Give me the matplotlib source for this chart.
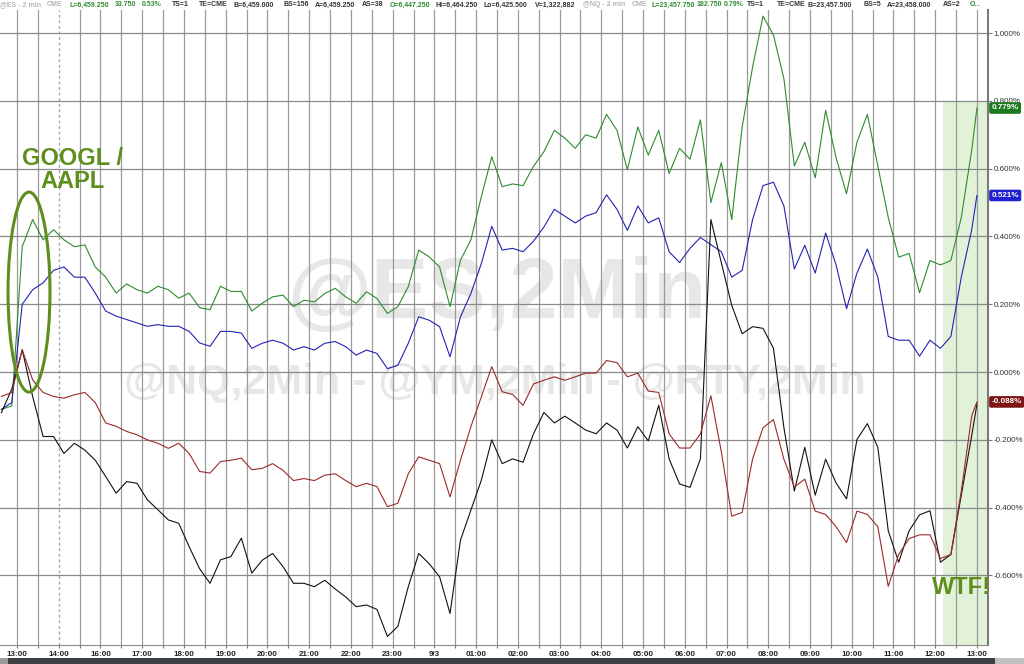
import numpy as np
import matplotlib
matplotlib.use('Agg')
import matplotlib.pyplot as plt
from matplotlib.patches import Ellipse, Rectangle

plt.rcParams['font.family'] = ['Liberation Sans', 'DejaVu Sans']

# time axis: half-hour slots counted from 13:00 (2-min bars sampled every 15 min)
times = np.append(np.arange(-0.75, 46.0, 0.5), 46.0)

# % change
nq = [-0.11, -0.10, 0.37, 0.45, 0.39, 0.42, 0.39, 0.37, 0.375, 0.31, 0.28, 0.233, 0.26,
      0.243, 0.233, 0.253, 0.243, 0.218, 0.233, 0.19, 0.184, 0.253, 0.238, 0.238, 0.18,
      0.203, 0.222, 0.227, 0.193, 0.212, 0.207, 0.232, 0.247, 0.222, 0.203, 0.237, 0.217,
      0.173, 0.193, 0.252, 0.36, 0.34, 0.31, 0.193, 0.33, 0.39, 0.517, 0.635, 0.547,
      0.555, 0.55, 0.607, 0.65, 0.713, 0.69, 0.66, 0.70, 0.69, 0.76, 0.713, 0.597,
      0.723, 0.64, 0.713, 0.586, 0.66, 0.628, 0.744, 0.50, 0.618, 0.45, 0.723, 0.90,
      1.05, 0.994, 0.865, 0.608, 0.678, 0.573, 0.772, 0.632, 0.526, 0.678, 0.76, 0.608,
      0.456, 0.339, 0.35, 0.234, 0.329, 0.316, 0.329, 0.456, 0.655, 0.779]
es = [-0.11, -0.09, 0.20, 0.243, 0.263, 0.30, 0.31, 0.28, 0.28, 0.233, 0.18, 0.165, 0.155,
      0.145, 0.135, 0.14, 0.135, 0.135, 0.12, 0.086, 0.076, 0.12, 0.12, 0.115, 0.07,
      0.085, 0.094, 0.085, 0.065, 0.075, 0.065, 0.085, 0.09, 0.075, 0.05, 0.065, 0.055,
      0.01, 0.02, 0.085, 0.163, 0.153, 0.134, 0.045, 0.163, 0.232, 0.32, 0.43, 0.36,
      0.365, 0.355, 0.386, 0.428, 0.48, 0.46, 0.44, 0.46, 0.47, 0.523, 0.48, 0.418,
      0.49, 0.44, 0.455, 0.355, 0.323, 0.365, 0.397, 0.376, 0.355, 0.28, 0.30, 0.45,
      0.55, 0.56, 0.49, 0.304, 0.374, 0.292, 0.41, 0.316, 0.187, 0.292, 0.363, 0.28,
      0.105, 0.094, 0.094, 0.047, 0.094, 0.07, 0.105, 0.28, 0.42, 0.521]
ym = [-0.072, -0.06, 0.066, -0.023, -0.06, -0.072, -0.077, -0.067, -0.06, -0.09, -0.15,
      -0.16, -0.175, -0.185, -0.20, -0.21, -0.225, -0.21, -0.24, -0.293, -0.298, -0.264,
      -0.26, -0.254, -0.288,
      -0.284, -0.27, -0.29, -0.32, -0.314, -0.32, -0.304, -0.30, -0.32, -0.338, -0.328,
      -0.338, -0.397, -0.387, -0.30, -0.25, -0.26, -0.27, -0.368, -0.26, -0.161, -0.073,
      0.016, -0.058,
      -0.066, -0.098, -0.035, -0.024, -0.014, -0.024, -0.014, -0.003, -0.003, 0.034,
      0.028, -0.014, -0.003, -0.056, -0.06, -0.182, -0.224, -0.224, -0.182, -0.07,
      -0.235, -0.425, -0.414, -0.256,
      -0.164, -0.14, -0.257, -0.339, -0.316, -0.41, -0.42, -0.456, -0.503, -0.41, -0.42,
      -0.456, -0.632, -0.538, -0.491, -0.48, -0.48, -0.55, -0.538, -0.351, -0.129, -0.088]
rty = [-0.12, -0.05, 0.066, -0.072, -0.19, -0.19, -0.24, -0.21, -0.23, -0.26, -0.308,
       -0.357, -0.323, -0.328, -0.377, -0.406, -0.436, -0.446, -0.515, -0.58, -0.623,
       -0.554, -0.544, -0.49, -0.593,
       -0.555, -0.535, -0.574, -0.623, -0.623, -0.633, -0.614, -0.64, -0.663, -0.692,
       -0.687, -0.70, -0.78, -0.75, -0.633, -0.535, -0.565, -0.604, -0.712, -0.496,
       -0.407, -0.319, -0.20, -0.27,
       -0.256, -0.266, -0.182, -0.119, -0.15, -0.13, -0.15, -0.171, -0.182, -0.15,
       -0.171, -0.224, -0.161, -0.203, -0.098, -0.256, -0.33, -0.34, -0.256, 0.45,
       0.323, 0.197, 0.113, 0.134,
       0.129, 0.07, -0.164, -0.351, -0.222, -0.363, -0.257, -0.327, -0.374, -0.199,
       -0.152, -0.222, -0.468, -0.561, -0.468, -0.421, -0.409, -0.561, -0.538, -0.363,
       -0.187, -0.095]

tick_slots = list(range(0, 47, 2))
tick_labels = ['13:00', '14:00', '16:00', '17:00', '18:00', '19:00', '20:00', '21:00',
               '22:00', '23:00', '9/3', '01:00', '02:00', '03:00', '04:00', '05:00',
               '06:00', '07:00', '08:00', '09:00', '10:00', '11:00', '12:00', '13:00']
pct_ticks = [-0.6, -0.4, -0.2, 0.0, 0.2, 0.4, 0.6, 0.8, 1.0]

W, H = 1024, 664
fig = plt.figure(figsize=(10.24, 6.64), dpi=100)
ax = fig.add_axes([0, 19 / H, 988 / W, 635 / H])
ax.set_xlim(-0.815, 46.53)
ax.set_ylim(-0.805, 1.068)

# grid
for s in range(0, 47):
    if s == 2:
        ax.axvline(s, color='#a8a8a8', lw=1, ls=(0, (2, 2)), zorder=1)
    else:
        ax.axvline(s, color='#9a9a9a', lw=0.9, zorder=1)
for v in pct_ticks:
    ax.axhline(v, color='#8a8a8a', lw=0.9, zorder=1)

# highlighted window
ax.add_patch(Rectangle((44.37, -0.805), 46.53 - 44.37, 0.8 + 0.805,
                       facecolor='#e2f2d8', edgecolor='none', zorder=0.5))

# watermarks
ax.text(23.0, (372 - 296) / 339, '@ES,2Min', fontsize=62, fontweight='bold',
        color='#e7e7e7', ha='center', va='center', zorder=0.8)
ax.text(22.9, (372 - 383) / 339, '@NQ,2Min - @YM,2Min - @RTY,2Min', fontsize=31,
        fontweight='bold', color='#e7e7e7', ha='center', va='center', zorder=0.8)

ax.plot(times, nq, color='#2e8b2e', lw=0.8, zorder=3)
ax.plot(times, es, color='#2323b4', lw=0.8, zorder=3)
ax.plot(times, rty, color='#111111', lw=0.8, zorder=3)
ax.plot(times, ym, color='#9a2a2a', lw=0.8, zorder=3)

# annotations
olive = '#5e8e1c'
ax.text(2.64, 0.596, 'GOOGL /\nAAPL', fontsize=17, fontweight='bold', color=olive,
        ha='center', va='center', linespacing=1.05, zorder=4)
ax.add_patch(Ellipse((0.575, 0.236), 2.01, 0.59, fill=False, edgecolor=olive,
                     lw=2.2, zorder=4))
ax.text(45.28, -0.634, 'WTF!', fontsize=17, fontweight='bold', color=olive,
        ha='center', va='center', zorder=4, clip_on=False)

# axes styling
for side in ['left', 'top']:
    ax.spines[side].set_visible(False)
ax.spines['right'].set_color('#7a7a7a')
ax.spines['right'].set_linewidth(1.5)
ax.spines['bottom'].set_color('#8a8a8a')
ax.yaxis.tick_right()
ax.set_yticks(pct_ticks)
ax.set_yticklabels(['{:.3f}%'.format(v) for v in pct_ticks])
ax.tick_params(axis='y', length=3, width=0.8, color='#777777', pad=1,
               labelsize=5.8, labelcolor='#333333')
ax.set_xticks(tick_slots)
ax.set_xticklabels(tick_labels)
ax.set_xticks(range(0, 47), minor=True)
ax.tick_params(axis='x', which='both', length=2, width=0.8, color='#777777', pad=2,
               labelsize=5.8, labelcolor='#222222')
for lab in ax.get_xticklabels():
    lab.set_fontweight('bold')

# last value badges
for val, col in [(0.779, '#1e7a1e'), (0.521, '#2020d0'), (-0.088, '#7e1414')]:
    ax.annotate('{:.3f}%'.format(val), xy=(1.0, val), xycoords=ax.get_yaxis_transform(),
                xytext=(2.5, 0), textcoords='offset points', ha='left', va='center',
                fontsize=5.8, fontweight='bold', color='white', annotation_clip=False,
                bbox=dict(boxstyle='round,pad=0.2,rounding_size=0.15', fc=col, ec=col))

# header quote line
grey, green, dark = '#b5b5b5', '#2e8b2e', '#333333'
header = [(0, '@ES - 2 min', grey), (47, 'CME', grey), (70, 'L=6,459.250', green),
          (115, '33.750', green), (142, '0.53%', green), (172, 'TS=1', dark),
          (199, 'TE=CME', dark), (233, 'B=6,459.000', dark), (283, 'BS=156', dark),
          (315, 'A=6,459.250', dark), (362, 'AS=38', dark), (390, 'O=6,447.250', green),
          (435, 'Hi=6,464.250', dark), (483, 'Lo=6,425.500', dark),
          (535, 'V=1,322,882', dark), (583, '@NQ - 2 min', grey), (632, 'CME', grey),
          (652, 'L=23,457.750', green), (697, '182.750', green), (724, '0.79%', green),
          (747, 'TS=1', dark), (777, 'TE=CME', dark), (808, 'B=23,457.500', dark),
          (863, 'BS=5', dark), (887, 'A=23,458.000', dark), (943, 'AS=2', dark),
          (970, 'O...', green)]
for px, txt, col in header:
    fig.text(px / W, 1 - 5 / H, txt, fontsize=5.0, fontweight='bold', color=col,
             ha='left', va='center')

# scrollbar strip at the bottom
fig.patches.append(Rectangle((0, 0), 1, 6 / H, transform=fig.transFigure,
                             facecolor='#3c4146', edgecolor='none'))
fig.patches.append(Rectangle((0, 0), 8 / W, 6 / H, transform=fig.transFigure,
                             facecolor='#9a9a9a', edgecolor='none'))
fig.patches.append(Rectangle((995 / W, 0), 29 / W, 6 / H, transform=fig.transFigure,
                             facecolor='#c0c0c0', edgecolor='none'))

fig.savefig('out.png', dpi=100)
